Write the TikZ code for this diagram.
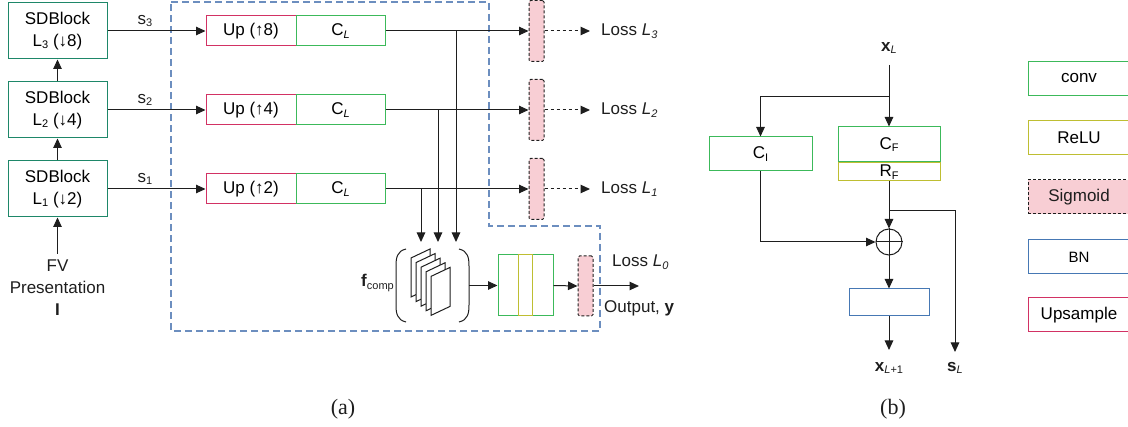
\documentclass[tikz,border=0pt]{standalone}
\usepackage{fontspec}
\setmainfont{Liberation Sans}
\newfontfamily\serifcap{Liberation Serif}
\usetikzlibrary{arrows.meta}

\definecolor{sdteal}{RGB}{30,135,105}
\definecolor{convgreen}{RGB}{60,185,90}
\definecolor{upred}{RGB}{210,50,100}
\definecolor{reluyellow}{RGB}{190,190,50}
\definecolor{bnblue}{RGB}{70,120,180}
\definecolor{sigfill}{RGB}{248,206,212}
\definecolor{boundblue}{RGB}{108,142,191}
\definecolor{ink}{RGB}{30,30,30}

% small lowered index, a little smaller than the default subscript
\newcommand\sub[1]{\raisebox{-0.28ex}{\fontsize{11}{12}\selectfont #1}}

\tikzset{
  arr/.style={-{Triangle[length=9.5pt,width=8.5pt]}, line width=1pt, draw=ink},
  darr/.style={arr, dash pattern=on 3pt off 3pt},
  plain/.style={line width=1pt, draw=ink},
  box/.style={draw, line width=1pt, inner sep=0pt, align=center, fill=white},
  sdbox/.style={box, draw=sdteal, minimum width=99pt, minimum height=56pt},
  upbox/.style={box, draw=upred, minimum width=90pt, minimum height=30pt},
  convbox/.style={box, draw=convgreen, minimum height=30pt},
  relubox/.style={box, draw=reluyellow},
  bnbox/.style={box, draw=bnblue},
  sigbox/.style={draw=ink, fill=sigfill, line width=1pt, dash pattern=on 3pt off 2pt,
    rounded corners=1.5pt, inner sep=0pt, minimum width=15pt},
  legbox/.style={box, minimum width=102pt, minimum height=34pt},
  lbl/.style={inner sep=0pt, text=ink},
  caption/.style={lbl, font=\serifcap\fontsize{22}{24}\selectfont},
  sheet/.style={draw=ink, fill=white, line width=1pt, line join=miter},
}

\begin{document}
\begin{tikzpicture}[x=1pt, y=-1pt, font=\fontsize{17}{22}\selectfont]
\useasboundingbox (0,0) rectangle (1128,427);
\clip (0,0) rectangle (1128,427);

% ---------------- (a) encoder column ----------------
\node[sdbox] (sd3) at (57.5,31)  {SDBlock\\L\sub{3} (↓8)};
\node[sdbox] (sd2) at (57.5,110) {SDBlock\\L\sub{2} (↓4)};
\node[sdbox] (sd1) at (57.5,189) {SDBlock\\L\sub{1} (↓2)};
\node[lbl, align=center] (fv) at (57.5,288) {FV\\Presentation\\\textbf{I}};
\coordinate (fvtop) at (57.5,254);
\draw[arr] (fvtop) -- (sd1.south);
\draw[arr] (sd1.north) -- (sd2.south);
\draw[arr] (sd2.north) -- (sd3.south);

% decoder side region
\draw[boundblue, line width=1.2pt, dash pattern=on 7pt off 4pt]
  (171,2) -- (489,2) -- (489,226) -- (600,226) -- (600,331) -- (171,331) -- cycle;

% upsample + conv rows
\foreach \r/\y/\f in {3/31/8, 2/110/4, 1/189/2}{
  \node[upbox] (up\r) at (251,\y) {Up (↑\f)};
  \node[convbox, minimum width=89pt] (cl\r) at (340.5,\y) {C\sub{\textit{L}}};
  \node[sigbox, minimum height=61pt] (sig\r) at (536.5,\y) {};
  \coordinate (le\r) at (590,\y);
  \draw[arr] (sd\r.east) -- (up\r.west);
  \node[lbl] (s\r) at (145,{\y-10}) {s\sub{\r}};
  \draw[arr] (cl\r.east) -- (sig\r.west);
  \draw[darr] (sig\r.east) -- (le\r);
  \node[lbl, anchor=west] (loss\r) at (601,\y) {Loss \textit{L}\sub{\textit{\r}}};
}

% skip taps into the fused feature stack
\coordinate (tap3) at (456,31);
\coordinate (tap2) at (438,110);
\coordinate (tap1) at (421,189);
\coordinate (in3) at (456,242);
\coordinate (in2) at (438,242);
\coordinate (in1) at (421,242);
\draw[arr] (tap3) -- (in3);
\draw[arr] (tap2) -- (in2);
\draw[arr] (tap1) -- (in1);

% f_comp: bracketed stack of feature maps
\node[minimum width=73pt, minimum height=73pt, inner sep=0pt] (fc) at (432.5,285.5) {};
\draw[plain] (406,249) .. controls (397,251) and (396,258) .. (396,266) -- (396,305)
  .. controls (396,313) and (397,320) .. (406,322);
\draw[plain] (459,249) .. controls (468,251) and (469,258) .. (469,266) -- (469,305)
  .. controls (469,313) and (468,320) .. (459,322);
\foreach \i in {0,...,4}{
  \draw[sheet] ({411+5*\i},{258+4.6*\i}) -- ({430+5*\i},{249+4.6*\i})
    -- ({430+5*\i},{288+4.6*\i}) -- ({411+5*\i},{297+4.6*\i}) -- cycle;
}
\node[lbl, anchor=east] (fcl) at (394,283) {\textbf{f}\sub{comp}};

% head: conv / ReLU / conv, then sigmoid
\node[convbox, minimum width=20pt, minimum height=61pt] (h1) at (508,285.5) {};
\node[convbox, minimum width=21pt, minimum height=61pt] (h3) at (542.5,285.5) {};
\node[relubox, minimum width=14pt, minimum height=61pt] (h2) at (525,285.5) {};
\node[sigbox, minimum height=60pt] (sig0) at (585.5,286) {};
\coordinate (outend) at (639,286);
\draw[arr] (fc.east) -- (h1.west);
\draw[arr] (h3.east) -- (sig0.west);
\draw[arr] (sig0.east) -- (outend);
\node[lbl, anchor=west] (loss0) at (612,262) {Loss \textit{L}\sub{\textit{0}}};
\node[lbl, anchor=west] (outl) at (604,308) {Output, \textbf{y}};

\node[caption] (capa) at (343,409) {(a)};

% ---------------- (b) SDBlock internals ----------------
\node[lbl] (xl) at (889,48) {\textbf{x}\sub{\textit{L}}};
\coordinate (xin) at (889,65);
\coordinate (fork) at (889,97);
\node[convbox, minimum width=102pt, minimum height=35pt] (cf) at (889,144.5) {C\sub{F}};
\node[relubox, minimum width=102pt, minimum height=18pt] (rf) at (889,172) {R\sub{F}};
\node[convbox, minimum width=103pt, minimum height=34pt] (ci) at (760.5,154) {C\sub{I}};
\node[draw=ink, line width=1pt, circle, minimum size=26pt, inner sep=0pt] (add) at (889,242) {};
\draw[plain] (add.north) -- (add.south);
\draw[plain] (add.west) -- (add.east);
\node[bnbox, minimum width=80pt, minimum height=27pt] (bn) at (889,302.5) {};
\coordinate (split) at (889,211);
\coordinate (send) at (955,352);
\coordinate (xend) at (889,350);

\draw[arr] (xin) -- (cf.north);
\draw[arr] (fork) -| (ci.north);
\draw[arr] (rf.south) -- (add.north);
\draw[arr] (split) -| (send);
\draw[arr] (ci.south) |- (add.west);
\draw[arr] (add.south) -- (bn.north);
\draw[arr] (bn.south) -- (xend);
\node[lbl] (xl1) at (889,368) {\textbf{x}\sub{\textit{L}+1}};
\node[lbl] (sl) at (955,368) {\textbf{s}\sub{\textit{L}}};

\node[caption] (capb) at (893,409) {(b)};

% ---------------- legend ----------------
\node[legbox, draw=convgreen] (lg1) at (1079,78.5) {conv};
\node[legbox, draw=reluyellow] (lg2) at (1079,138) {ReLU};
\node[sigbox, minimum width=102pt, minimum height=34pt, rounded corners=0pt, text=ink] (lg3) at (1079,197) {Sigmoid};
\node[legbox, draw=bnblue, font=\fontsize{15}{18}\selectfont] (lg4) at (1079,257) {BN};
\node[legbox, draw=upred] (lg5) at (1079,315) {Upsample};
\end{tikzpicture}
\end{document}
